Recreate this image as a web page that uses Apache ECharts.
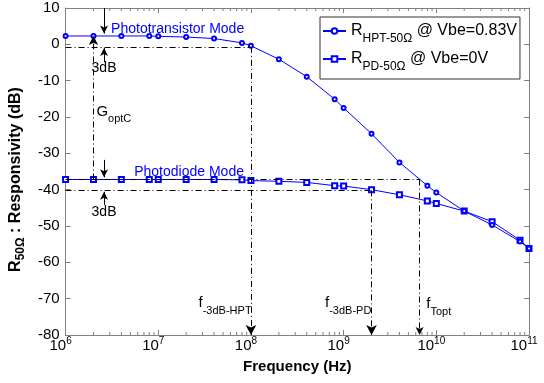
<!DOCTYPE html>
<html>
<head>
<meta charset="utf-8">
<script src="https://cdn.jsdelivr.net/npm/echarts@6/dist/echarts.min.js"></script>
<style>
html, body { margin: 0; padding: 0; background: #fff; }
#chart { width: 544px; height: 383px; }
</style>
</head>
<body>
<div id="chart"></div>
<script>
// measured points (Hz, dB)
const freq = [1e6, 2e6, 4e6, 8e6, 1e7, 2e7, 4e7, 8e7, 1e8, 2e8, 4e8, 8e8, 1e9, 2e9, 4e9, 8e9, 1e10, 2e10, 4e10, 8e10, 1e11];
const hptResp = [2.3, 2.3, 2.3, 2.3, 2.2, 2.0, 1.6, 0.4, -0.4, -4.1, -8.9, -15.1, -17.5, -24.6, -32.5, -38.9, -40.8, -45.9, -49.7, -54.3, -56.2];
const pdResp = [-37.2, -37.2, -37.2, -37.2, -37.2, -37.2, -37.2, -37.3, -37.5, -37.7, -38.0, -38.9, -39.0, -40.0, -41.4, -43.1, -43.8, -45.9, -48.8, -53.9, -56.2];

const xTickExp = [6, 7, 8, 9, 10, 11];
const yMin = -80, yMax = 10, yStep = 10;

// annotation levels
const hptCut = -0.7, pdFlat = -37.2, pdCut = -40.2, hptFlat = 2.3;
const fHpt = 1e8, fPd = 2e9, fTopt = 6.6e9, fGopt = 2e6, f3dB = 2.6e6;

const axisGray = '#808080';
const font = 'Liberation Sans, Arial, sans-serif';
const blue = '#0000ff';

const minorTicks = [];
for (let e = xTickExp[0]; e < xTickExp[xTickExp.length - 1]; e++) {
    for (let m = 2; m <= 9; m++) minorTicks.push(m * Math.pow(10, e));
}

const dashDot = { color: '#000', width: 1, type: [6, 3, 1, 3] };
const solid = { color: '#000', width: 1, type: 'solid' };

function seg(a, b, style, arrowSize) {
    return [
        { coord: a, symbol: 'none', lineStyle: style },
        { coord: b, symbol: arrowSize ? 'arrow' : 'none', symbolSize: arrowSize || 0, lineStyle: style }
    ];
}

const markLines = [
    seg([freq[0], hptCut], [fHpt, hptCut], dashDot),
    seg([fHpt, hptCut], [fHpt, yMin], dashDot, [8, 10]),
    seg([freq[0], pdFlat], [fTopt, pdFlat], dashDot),
    seg([fTopt, pdFlat], [fTopt, yMin], dashDot, [6, 8]),
    seg([freq[0], pdCut], [fPd, pdCut], dashDot),
    seg([fPd, pdCut], [fPd, yMin], dashDot, [8, 10]),
    seg([fGopt, pdFlat], [fGopt, hptFlat], dashDot, [7, 9]),
    seg([f3dB, yMax], [f3dB, 3.0], solid, [6, 8]),
    seg([f3dB, -4.9], [f3dB, -1.0], solid, [6, 8]),
    seg([f3dB, -31.8], [f3dB, -36.6], solid, [6, 8]),
    seg([f3dB, -44.2], [f3dB, -40.6], solid, [6, 8])
];

const subRich = {
    m: { fontSize: 15, fontFamily: font, color: '#000', lineHeight: 26 },
    s: { fontSize: 11, fontFamily: font, color: '#000', lineHeight: 10, verticalAlign: 'bottom' },
    b: { fontSize: 14, fontFamily: font, color: blue, lineHeight: 16 },
    t: { fontSize: 14, fontFamily: font, color: '#000', lineHeight: 16 }
};

function note(coord, text, align) {
    return {
        coord: coord,
        symbolSize: 0,
        label: {
            show: true, position: [0, 0], align: align || 'left', verticalAlign: 'middle',
            formatter: text, rich: subRich
        }
    };
}

const notes = [
    note([3.1e6, 4.2], '{b|Phototransistor Mode}'),
    note([5.5e6, -35.2], '{b|Photodiode Mode}'),
    note([2.6e6, -6.5], '{t|3dB}', 'center'),
    note([2.6e6, -46.1], '{t|3dB}', 'center'),
    note([2.15e6, -18.6], '{m|G}{s|optC}'),
    note([2.72e7, -71.2], '{m|f}{s|-3dB-HPT}'),
    note([6.3e8, -71.2], '{m|f}{s|-3dB-PD}'),
    note([7.8e9, -71.5], '{m|f}{s|Topt}')
];

const chart = echarts.init(document.getElementById('chart'));

chart.setOption({
    animation: false,
    backgroundColor: '#fff',
    grid: { left: 61, right: 15, top: 8, bottom: 48 },
    legend: {
        orient: 'vertical',
        left: 320, top: 17,
        data: ['HPT', 'PD'],
        backgroundColor: '#fff',
        borderColor: '#333',
        borderWidth: 1,
        padding: [6, 3, 6, 2],
        itemGap: 6,
        itemWidth: 23,
        itemHeight: 7,
        formatter: function (name) {
            return name === 'HPT'
                ? '{r|R}{s|HPT-50Ω}{r| @ Vbe=0.83V}'
                : '{r|R}{s|PD-50Ω}{r| @ Vbe=0V}';
        },
        textStyle: {
            rich: {
                r: { fontSize: 16, fontFamily: font, color: '#000', lineHeight: 28 },
                s: { fontSize: 12, fontFamily: font, color: '#000', lineHeight: 10, verticalAlign: 'bottom' }
            }
        }
    },
    xAxis: [{
        type: 'log', logBase: 10, min: 1e6, max: 1e11,
        name: 'Frequency (Hz)', nameLocation: 'middle', nameGap: 24,
        nameTextStyle: { fontSize: 15, fontWeight: 'bold', fontFamily: font, color: '#000' },
        axisLine: { onZero: false, lineStyle: { color: axisGray } },
        axisTick: { inside: true, length: 5, lineStyle: { color: axisGray } },
        splitLine: { show: false },
        axisLabel: {
            margin: 1,
            formatter: function (v) {
                return '{a|10}{p|' + Math.round(Math.log10(v)) + '}';
            },
            padding: [0, 10, 0, 0],
            rich: {
                a: { fontSize: 15, fontFamily: font, color: '#000', lineHeight: 20 },
                p: { fontSize: 10, fontFamily: font, color: '#000', lineHeight: 8, verticalAlign: 'top' }
            }
        }
    }, {
        type: 'log', logBase: 10, min: 1e6, max: 1e11, position: 'top',
        axisLine: { onZero: false, lineStyle: { color: axisGray } },
        axisTick: { inside: true, length: 5, lineStyle: { color: axisGray } },
        axisLabel: { show: false },
        splitLine: { show: false }
    }],
    yAxis: [{
        type: 'value', min: yMin, max: yMax, interval: yStep,
        name: '{r|R}{s|50Ω}{r| : Responsivity (dB)}',
        nameLocation: 'middle', nameGap: 38,
        nameTextStyle: {
            padding: [0, 16, 0, 0],
            rich: {
                r: { fontSize: 16, fontWeight: 'bold', fontFamily: font, color: '#000', lineHeight: 22 },
                s: { fontSize: 12, fontWeight: 'bold', fontFamily: font, color: '#000', lineHeight: 10, verticalAlign: 'bottom' }
            }
        },
        axisLine: { show: true, onZero: false, lineStyle: { color: axisGray } },
        axisTick: { show: true, inside: true, length: 5, lineStyle: { color: axisGray } },
        axisLabel: { margin: 6, fontSize: 15, fontFamily: font, color: '#000' },
        splitLine: { show: false }
    }, {
        type: 'value', min: yMin, max: yMax, interval: yStep, position: 'right',
        axisLine: { show: true, onZero: false, lineStyle: { color: axisGray } },
        axisTick: { show: true, inside: true, length: 5, lineStyle: { color: axisGray } },
        axisLabel: { show: false },
        splitLine: { show: false }
    }],
    series: [{
        name: 'PD',
        type: 'line',
        data: freq.map((f, i) => [f, pdResp[i]]),
        symbol: 'emptyRect', symbolSize: 5,
        color: blue,
        lineStyle: { width: 1, color: blue },
        itemStyle: { color: blue, borderWidth: 1 },
        clip: false,
        z: 3
    }, {
        name: 'HPT',
        type: 'line',
        data: freq.map((f, i) => [f, hptResp[i]]),
        symbol: 'emptyCircle', symbolSize: 4,
        color: blue,
        lineStyle: { width: 1, color: blue },
        itemStyle: { color: blue, borderWidth: 1 },
        clip: false,
        z: 3
    }, {
        name: 'annot',
        type: 'line',
        data: [],
        silent: true,
        z: 4,
        markLine: {
            silent: true,
            animation: false,
            label: { show: false },
            data: markLines
        },
        markPoint: {
            silent: true,
            animation: false,
            symbol: 'circle',
            symbolSize: 0,
            data: notes
        }
    }, {
        name: 'minor',
        type: 'custom',
        silent: true,
        clip: false,
        data: minorTicks.map(v => [v, yMin]),
        renderItem: function (params, api) {
            const v = api.value(0);
            const b = api.coord([v, yMin]);
            const t = api.coord([v, yMax]);
            return {
                type: 'group',
                children: [
                    { type: 'line', shape: { x1: b[0], y1: b[1], x2: b[0], y2: b[1] - 3 }, style: { stroke: axisGray, lineWidth: 1 } },
                    { type: 'line', shape: { x1: t[0], y1: t[1], x2: t[0], y2: t[1] + 3 }, style: { stroke: axisGray, lineWidth: 1 } }
                ]
            };
        }
    }]
});

window.addEventListener('resize', chart.resize);
</script>
</body>
</html>
